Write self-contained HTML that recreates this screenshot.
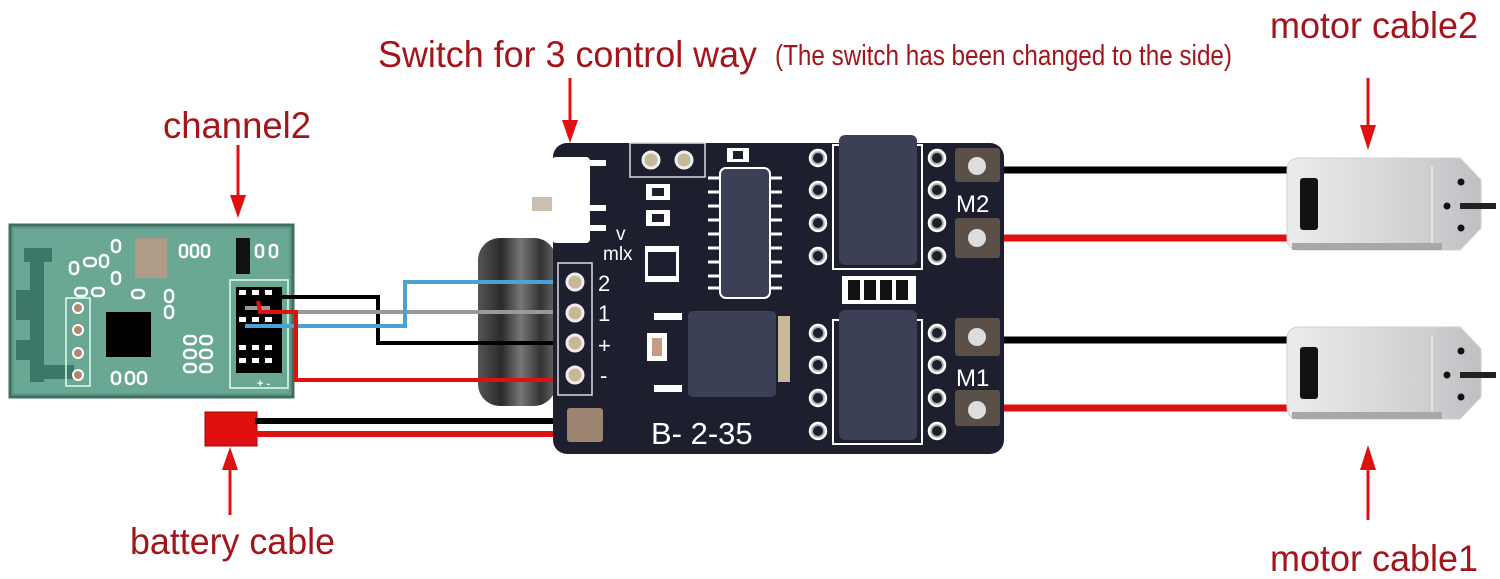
<!DOCTYPE html>
<html><head><meta charset="utf-8"><style>html,body{margin:0;padding:0;background:#fff}svg{display:block}</style></head>
<body>
<svg width="1500" height="579" viewBox="0 0 1500 579" xmlns="http://www.w3.org/2000/svg" font-family="Liberation Sans, sans-serif">
<defs>
<linearGradient id="cyl" x1="0" x2="1"><stop offset="0" stop-color="#555"/><stop offset=".3" stop-color="#2a2a2a"/><stop offset=".55" stop-color="#777"/><stop offset=".8" stop-color="#333"/><stop offset="1" stop-color="#666"/></linearGradient>
<linearGradient id="mot" x1="0" x2="1"><stop offset="0" stop-color="#ececec"/><stop offset=".6" stop-color="#d4d4d6"/><stop offset="1" stop-color="#bfc0c3"/></linearGradient>
</defs>
<!-- labels -->
<g fill="#a3151b">
<text x="378" y="67" font-size="37" textLength="379" lengthAdjust="spacingAndGlyphs">Switch for 3 control way</text>
<text x="775" y="65" font-size="29" textLength="457" lengthAdjust="spacingAndGlyphs">(The switch has been changed to the side)</text>
<text x="1270" y="38" font-size="37" textLength="208" lengthAdjust="spacingAndGlyphs">motor cable2</text>
<text x="163" y="138" font-size="37" textLength="148" lengthAdjust="spacingAndGlyphs">channel2</text>
<text x="130" y="554" font-size="37" textLength="205" lengthAdjust="spacingAndGlyphs">battery cable</text>
<text x="1270" y="571" font-size="37" textLength="208" lengthAdjust="spacingAndGlyphs">motor cable1</text>
</g>
<g stroke="#e01010" stroke-width="3" fill="#e01010">
<line x1="238" y1="145" x2="238" y2="200"/><polygon points="230,195 246,195 238,218" stroke="none"/>
<line x1="570" y1="78" x2="570" y2="125"/><polygon points="562,120 578,120 570,143" stroke="none"/>
<line x1="1368" y1="78" x2="1368" y2="130"/><polygon points="1360,125 1376,125 1368,150" stroke="none"/>
<line x1="230" y1="465" x2="230" y2="515"/><polygon points="222,470 238,470 230,447" stroke="none"/>
<line x1="1368" y1="465" x2="1368" y2="520"/><polygon points="1360,470 1376,470 1368,445" stroke="none"/>
</g>
<!-- motor wires -->
<g stroke-width="7" fill="none">
<line x1="1000" y1="170" x2="1295" y2="170" stroke="#000"/>
<line x1="1000" y1="238" x2="1295" y2="238" stroke="#e01010"/>
<line x1="1000" y1="340" x2="1295" y2="340" stroke="#000"/>
<line x1="1000" y1="408" x2="1295" y2="408" stroke="#e01010"/>
</g>
<!-- motors -->
<g id="m1">
<path d="M1300,158 L1460,158 L1481,180 L1481,228 L1460,250 L1300,250 Q1287,250 1287,238 L1287,170 Q1287,158 1300,158 Z" fill="url(#mot)" stroke="#d0d0d0"/>
<line x1="1432" y1="166" x2="1432" y2="244" stroke="#e4e4e4" stroke-width="2"/>
<rect x="1292" y="243" width="150" height="7" fill="#a8a8a8"/>
<rect x="1300" y="178" width="18" height="52" rx="3" fill="#111"/>
<circle cx="1461" cy="182" r="3.5" fill="#111"/><circle cx="1461" cy="228" r="3.5" fill="#111"/><circle cx="1447" cy="206" r="3.5" fill="#111"/>
<rect x="1460" y="203" width="36" height="6" fill="#222"/>
</g>
<use href="#m1" transform="translate(0,169)"/>
<!-- battery wires -->
<rect x="205" y="412" width="52" height="34" fill="#e01010" stroke="#a00"/>
<line x1="255" y1="421" x2="575" y2="421" stroke="#000" stroke-width="6"/>
<line x1="255" y1="434" x2="575" y2="434" stroke="#e01010" stroke-width="6"/>
<!-- green module -->
<rect x="10" y="225" width="283" height="172" fill="#5f9a88" stroke="#3f6f62" stroke-width="3"/>
<rect x="14" y="229" width="275" height="164" fill="#6aa795"/>
<g fill="#3d7767"><rect x="24" y="248" width="28" height="14"/><rect x="30" y="262" width="14" height="120"/><rect x="16" y="290" width="20" height="30"/><rect x="16" y="340" width="20" height="20"/><rect x="44" y="365" width="30" height="14"/></g>
<rect x="66" y="298" width="24" height="88" fill="none" stroke="#dfe" stroke-width="1.5"/>
<g fill="#b08a6a" stroke="#fff" stroke-width="2"><circle cx="78" cy="308" r="5"/><circle cx="78" cy="330" r="5"/><circle cx="78" cy="353" r="5"/><circle cx="78" cy="375" r="5"/></g>
<rect x="106" y="312" width="45" height="45" fill="#000"/>
<rect x="135" y="238" width="32" height="40" fill="#b09a88"/>
<g fill="none" stroke="#fff" stroke-width="2.5">
<rect x="70" y="262" width="8" height="12" rx="4"/><rect x="84" y="258" width="12" height="8" rx="4"/><rect x="100" y="255" width="8" height="12" rx="4"/><rect x="112" y="240" width="8" height="12" rx="4"/><rect x="112" y="272" width="8" height="12" rx="4"/>
<rect x="75" y="288" width="12" height="8" rx="4"/><rect x="92" y="288" width="12" height="8" rx="4"/><rect x="132" y="290" width="12" height="8" rx="4"/>
<rect x="165" y="290" width="8" height="12" rx="4"/><rect x="165" y="306" width="8" height="12" rx="4"/>
<rect x="180" y="245" width="7" height="12" rx="3"/><rect x="191" y="245" width="7" height="12" rx="3"/><rect x="202" y="245" width="7" height="12" rx="3"/>
<rect x="256" y="245" width="7" height="12" rx="3"/><rect x="270" y="245" width="7" height="12" rx="3"/>
<rect x="184" y="336" width="12" height="8" rx="4"/><rect x="200" y="336" width="12" height="8" rx="4"/><rect x="184" y="350" width="12" height="8" rx="4"/><rect x="200" y="350" width="12" height="8" rx="4"/><rect x="184" y="364" width="12" height="8" rx="4"/><rect x="200" y="364" width="12" height="8" rx="4"/>
<rect x="112" y="372" width="8" height="12" rx="4"/><rect x="126" y="372" width="8" height="12" rx="4"/><rect x="138" y="372" width="8" height="12" rx="4"/>
</g>
<rect x="236" y="238" width="14" height="36" fill="#111"/>
<rect x="230" y="280" width="58" height="108" fill="none" stroke="#dfe" stroke-width="1.5"/>
<rect x="236" y="287" width="46" height="86" fill="#000"/>
<g fill="#fff"><rect x="239" y="290" width="7" height="5"/><rect x="252" y="290" width="7" height="5"/><rect x="265" y="290" width="7" height="5"/><rect x="239" y="317" width="7" height="5"/><rect x="252" y="317" width="7" height="5"/><rect x="265" y="317" width="7" height="5"/><rect x="239" y="345" width="7" height="5"/><rect x="252" y="345" width="7" height="5"/><rect x="265" y="345" width="7" height="5"/><rect x="239" y="358" width="7" height="5"/><rect x="252" y="358" width="7" height="5"/><rect x="265" y="358" width="7" height="5"/></g>
<text x="257" y="387" font-size="11" fill="#fff" font-weight="bold">+  -</text>
<!-- cylinder -->
<rect x="478" y="238" width="78" height="168" rx="22" fill="url(#cyl)"/>
<!-- signal wires -->
<g fill="none" stroke-width="4">
<polyline points="245,297 378,297 378,343 560,343" stroke="#000"/>
<polyline points="245,308 268,308 268,312 565,312" stroke="#999"/>
<polyline points="245,326 405,326 405,282 565,282" stroke="#4aa3d5"/>
<polyline points="258,301 260,312 296,312 296,380 565,380" stroke="#e01010"/>
</g>
<!-- board -->
<rect x="553" y="143" width="451" height="311" rx="14" fill="#1d1f2e"/>
<rect x="532" y="197" width="20" height="14" fill="#c9c0b0"/>
<rect x="552" y="157" width="38" height="86" rx="4" fill="#fff"/>
<g fill="#fff"><rect x="590" y="160" width="16" height="6"/><rect x="590" y="205" width="16" height="6"/><rect x="590" y="225" width="16" height="6"/></g>
<text x="616" y="240" font-size="19" fill="#fff">v</text>
<text x="603" y="260" font-size="19" fill="#fff">mlx</text>
<rect x="558" y="263" width="34" height="132" fill="none" stroke="#ddd" stroke-width="1.5"/>
<g fill="#c8b89a" stroke="#eee" stroke-width="3"><circle cx="575" cy="282" r="8"/><circle cx="575" cy="313" r="8"/><circle cx="575" cy="343" r="8"/><circle cx="575" cy="375" r="8"/></g>
<g fill="#fff" font-size="22"><text x="598" y="291">2</text><text x="598" y="321">1</text><text x="598" y="353">+</text><text x="600" y="383">-</text></g>
<rect x="567" y="408" width="36" height="34" rx="3" fill="#9c8470"/>
<rect x="630" y="143" width="75" height="34" fill="none" stroke="#ddd" stroke-width="1.5"/>
<g fill="#c8b89a" stroke="#eee" stroke-width="3"><circle cx="651" cy="160" r="8"/><circle cx="684" cy="160" r="8"/></g>
<g fill="#fff"><rect x="646" y="184" width="24" height="16"/><rect x="646" y="210" width="24" height="16"/><rect x="727" y="148" width="22" height="14"/><rect x="645" y="246" width="34" height="36"/><rect x="654" y="313" width="28" height="7"/><rect x="654" y="385" width="28" height="7"/><rect x="647" y="333" width="20" height="28"/><rect x="778" y="316" width="12" height="66" fill="#c8b89a"/></g>
<g fill="#1d1f2e"><rect x="652" y="188" width="12" height="8"/><rect x="652" y="214" width="12" height="8"/><rect x="733" y="151" width="10" height="8"/><rect x="648" y="252" width="28" height="24"/></g>
<rect x="652" y="338" width="10" height="18" fill="#c89a80"/>
<g stroke="#fff" stroke-width="3"><line x1="708" y1="178" x2="782" y2="178"/><line x1="708" y1="192" x2="782" y2="192"/><line x1="708" y1="206" x2="782" y2="206"/><line x1="708" y1="220" x2="782" y2="220"/><line x1="708" y1="234" x2="782" y2="234"/><line x1="708" y1="248" x2="782" y2="248"/><line x1="708" y1="262" x2="782" y2="262"/><line x1="708" y1="276" x2="782" y2="276"/><line x1="708" y1="288" x2="782" y2="288"/></g>
<rect x="720" y="168" width="50" height="130" rx="6" fill="#3b4057" stroke="#fff" stroke-width="2"/>
<rect x="688" y="311" width="88" height="86" rx="5" fill="#3b4057"/>
<text x="651" y="444" font-size="31" fill="#fff">B-  2-35</text>
<!-- H-bridge chips -->
<g id="chip">
<g fill="#aaa" stroke="#fff" stroke-width="2.5"><circle cx="818" cy="158" r="8"/><circle cx="818" cy="190" r="8"/><circle cx="818" cy="223" r="8"/><circle cx="818" cy="256" r="8"/><circle cx="937" cy="158" r="8"/><circle cx="937" cy="190" r="8"/><circle cx="937" cy="223" r="8"/><circle cx="937" cy="256" r="8"/></g>
<g fill="#1d1f2e"><circle cx="818" cy="158" r="5"/><circle cx="818" cy="190" r="5"/><circle cx="818" cy="223" r="5"/><circle cx="818" cy="256" r="5"/><circle cx="937" cy="158" r="5"/><circle cx="937" cy="190" r="5"/><circle cx="937" cy="223" r="5"/><circle cx="937" cy="256" r="5"/></g>
<rect x="833" y="145" width="89" height="124" fill="none" stroke="#fff" stroke-width="2"/>
<rect x="839" y="135" width="78" height="130" rx="6" fill="#3b4057"/>
</g>
<use href="#chip" transform="translate(0,175)"/>
<rect x="842" y="276" width="74" height="28" fill="#fff"/>
<g fill="#111"><rect x="848" y="280" width="12" height="20"/><rect x="864" y="280" width="12" height="20"/><rect x="880" y="280" width="12" height="20"/><rect x="896" y="280" width="12" height="20"/></g>
<g fill="#5a5048"><rect x="955" y="148" width="45" height="34" rx="3"/><rect x="955" y="218" width="45" height="40" rx="3"/><rect x="955" y="318" width="45" height="38" rx="3"/><rect x="955" y="390" width="45" height="36" rx="3"/></g>
<g fill="#ddd"><circle cx="977" cy="166" r="9"/><circle cx="977" cy="238" r="9"/><circle cx="977" cy="337" r="9"/><circle cx="977" cy="410" r="9"/></g>
<g fill="#fff" font-size="24"><text x="956" y="212">M2</text><text x="956" y="386">M1</text></g>
</svg>
</body></html>
